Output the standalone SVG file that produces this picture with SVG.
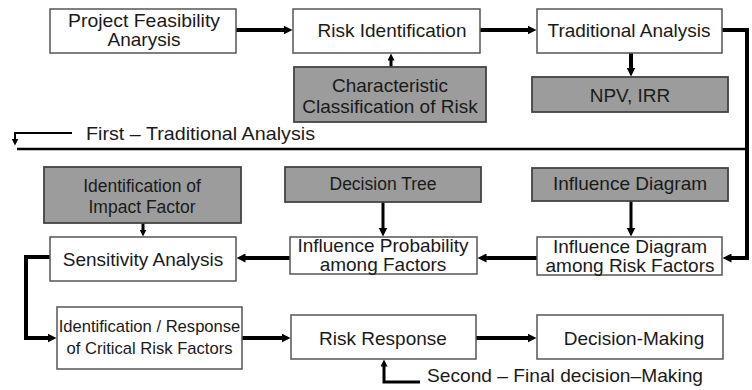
<svg xmlns="http://www.w3.org/2000/svg" width="752" height="390" viewBox="0 0 752 390">
<style>
  .w { fill: #ffffff; stroke: #555555; stroke-width: 1.5; }
  .g { fill: #9c9c9c; stroke: #444444; stroke-width: 1.8; }
  text { font-family: "Liberation Sans", Arial, sans-serif; fill: #1a1a1a; text-anchor: middle; }
  .t { font-size: 19px; }
  .ts { font-size: 17.5px; }
  .tl { font-size: 16.6px; }
  .lab { font-size: 19px; text-anchor: start; }
  .c { fill: none; stroke: #000000; stroke-linejoin: miter; }
  .k { stroke-width: 4; }
  .m { stroke-width: 3; }
  .n { stroke-width: 2.5; }
</style>
<defs>
  <marker id="ah" viewBox="0 0 9 9" refX="0.5" refY="4.5" markerWidth="9" markerHeight="9" markerUnits="userSpaceOnUse" orient="auto">
    <path d="M0,0 L9,4.5 L0,9 z" fill="#000"/>
  </marker>
  <marker id="as" viewBox="0 0 7 7" refX="0.5" refY="3.5" markerWidth="7" markerHeight="7" markerUnits="userSpaceOnUse" orient="auto">
    <path d="M0,0 L7,3.5 L0,7 z" fill="#000"/>
  </marker>
</defs>

<g id="connectors">
  <path class="c k" d="M236,30 H284" marker-end="url(#ah)"/>
  <path class="c k" d="M480,30 H528" marker-end="url(#ah)"/>
  <path class="c m" d="M391,67 V60" marker-end="url(#as)"/>
  <path class="c k" d="M631,53 V68" marker-end="url(#ah)"/>
  <path class="c k" d="M722,30 H747 V258 H731" marker-end="url(#ah)"/>
  <path class="c n" d="M17,149 H747"/>
  <path class="c" stroke-width="2" d="M72,133 H15 V139" marker-end="url(#as)"/>
  <path class="c m" d="M631,201 V228" marker-end="url(#ah)"/>
  <path class="c m" d="M383,202 V228" marker-end="url(#ah)"/>
  <path class="c k" d="M537,258 H486" marker-end="url(#ah)"/>
  <path class="c m" d="M143,223 V230" marker-end="url(#as)"/>
  <path class="c k" d="M290,258 H245" marker-end="url(#ah)"/>
  <path class="c k" d="M50,257 H26 V338 H48" marker-end="url(#ah)"/>
  <path class="c k" d="M242,338 H282" marker-end="url(#ah)"/>
  <path class="c k" d="M476,338 H528" marker-end="url(#ah)"/>
  <path class="c m" d="M420,382 H384 V366" marker-end="url(#as)"/>
</g>

<g id="project-feasibility">
  <rect class="w" x="50" y="9" width="186" height="44"/>
  <text class="t" x="144" y="27" textLength="152" lengthAdjust="spacingAndGlyphs">Project Feasibility</text>
  <text class="t" x="144" y="46">Anarysis</text>
</g>
<g id="risk-identification">
  <rect class="w" x="293" y="9" width="187" height="44"/>
  <text class="t" x="392" y="37">Risk Identification</text>
</g>
<g id="traditional-analysis">
  <rect class="w" x="537" y="9" width="185" height="44"/>
  <text class="t" x="629" y="37">Traditional Analysis</text>
</g>
<g id="characteristic-classification">
  <rect class="g" x="294" y="67" width="192" height="55"/>
  <text class="t" x="390" y="92">Characteristic</text>
  <text class="t" x="390" y="113">Classification of Risk</text>
</g>
<g id="npv-irr">
  <rect class="g" x="532" y="77" width="196" height="35"/>
  <text class="t" x="630" y="102">NPV, IRR</text>
</g>
<g id="first-label">
  <text class="lab" x="86" y="140" textLength="229" lengthAdjust="spacingAndGlyphs">First – Traditional Analysis</text>
</g>
<g id="identification-impact-factor">
  <rect class="g" x="44" y="167" width="197" height="56"/>
  <text class="ts" x="142" y="192">Identification of</text>
  <text class="ts" x="142" y="213">Impact Factor</text>
</g>
<g id="decision-tree">
  <rect class="g" x="285" y="167" width="196" height="35"/>
  <text class="ts" x="383" y="190">Decision Tree</text>
</g>
<g id="influence-diagram">
  <rect class="g" x="532" y="168" width="196" height="33"/>
  <text class="t" x="630" y="190">Influence Diagram</text>
</g>
<g id="sensitivity-analysis">
  <rect class="w" x="50" y="237" width="186" height="44"/>
  <text class="t" x="143" y="266">Sensitivity Analysis</text>
</g>
<g id="influence-probability">
  <rect class="w" x="290" y="237" width="187" height="37"/>
  <text class="t" x="383" y="252">Influence Probability</text>
  <text class="t" x="383" y="271">among Factors</text>
</g>
<g id="influence-diagram-risk-factors">
  <rect class="w" x="537" y="237" width="185" height="38"/>
  <text class="t" x="630" y="253">Influence Diagram</text>
  <text class="t" x="630" y="272">among Risk Factors</text>
</g>
<g id="identification-response">
  <rect class="w" x="57" y="307" width="185" height="62"/>
  <text class="tl" x="149.5" y="332">Identification / Response</text>
  <text class="tl" x="149.5" y="354">of Critical Risk Factors</text>
</g>
<g id="risk-response">
  <rect class="w" x="291" y="315" width="185" height="44"/>
  <text class="t" x="383" y="345">Risk Response</text>
</g>
<g id="decision-making">
  <rect class="w" x="537" y="315" width="186" height="44"/>
  <text class="t" x="634" y="345">Decision-Making</text>
</g>
<g id="second-label">
  <text class="lab" x="427" y="382" textLength="276" lengthAdjust="spacingAndGlyphs">Second – Final decision–Making</text>
</g>
</svg>
